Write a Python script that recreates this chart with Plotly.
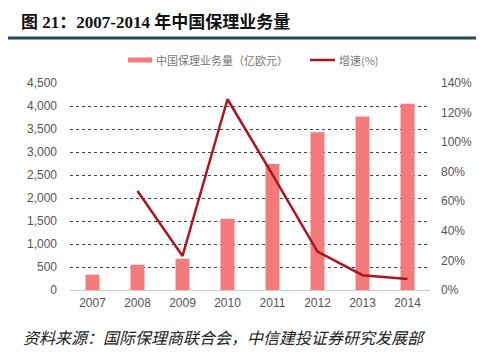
import plotly.graph_objects as go

years = ["2007", "2008", "2009", "2010", "2011", "2012", "2013", "2014"]
volume = [335, 550, 680, 1550, 2740, 3430, 3770, 4050]
growth = [None, 0.67, 0.23, 1.29, 0.78, 0.26, 0.10, 0.075]

OFF = 8  # default page body margin
PW_, PH_ = 489, 361
W, H = PW_ - OFF, PH_ - OFF
# plot area in page pixel coordinates
PL, PR, PT, PB = 70, 430, 83, 290
L = PL - OFF
T = PT - OFF
R = W - (PR - OFF)
B = H - (PB - OFF)
ph = PB - PT
pw = PR - PL

def py(y):
    return (PB - y) / ph

def px(x):
    return (x - PL) / pw

bar_color = "#F47B7B"
line_color = "#AE1420"
cjk = "Noto Sans CJK SC"
num = "Liberation Sans"

fig = go.Figure()
fig.add_trace(go.Bar(x=years, y=volume, name="中国保理业务量（亿欧元）",
                     marker=dict(color=bar_color, line=dict(width=0)),
                     yaxis="y", showlegend=False))
fig.add_trace(go.Scatter(x=years, y=growth, name="增速(%)", mode="lines",
                         line=dict(color=line_color, width=2.5),
                         yaxis="y2", showlegend=False))

fig.update_layout(
    width=W, height=H,
    margin=dict(l=L, r=R, t=T, b=B),
    paper_bgcolor="white", plot_bgcolor="white",
    bargap=0.69,
    xaxis=dict(type="category", showgrid=False, showline=False, ticks="",
               ticklabelstandoff=4,
               tickfont=dict(family=num, size=12, color="#555")),
    yaxis=dict(range=[0, 4500], dtick=500, tickformat=",d",
               showgrid=True, gridcolor="#444", griddash="dot", gridwidth=1,
               zeroline=True, zerolinecolor="#ccc", zerolinewidth=1,
               showline=False, ticks="", ticklabelstandoff=12,
               tickfont=dict(family=num, size=12, color="#555")),
    yaxis2=dict(range=[0, 1.4], dtick=0.2, tickformat=".0%", overlaying="y",
                side="right", showgrid=False, zeroline=False, showline=False,
                ticks="", ticklabelstandoff=10,
                tickfont=dict(family=num, size=12, color="#555")),
    showlegend=False,
)

shapes = [
    dict(type="line", xref="paper", yref="paper", x0=px(8), x1=px(476),
         y0=py(38), y1=py(38), line=dict(color="#1F4A5A", width=3)),
    dict(type="line", xref="paper", yref="paper", x0=px(128), x1=px(152),
         y0=py(60), y1=py(60), line=dict(color=bar_color, width=5)),
    dict(type="line", xref="paper", yref="paper", x0=px(310), x1=px(335),
         y0=py(60), y1=py(60), line=dict(color=line_color, width=2.5)),
]
fig.update_layout(shapes=shapes)

annotations = [
    dict(text="<b>图 21：2007-2014 年中国保理业务量</b>", xref="paper", yref="paper",
         x=px(19), y=py(22), xanchor="left", yanchor="middle", showarrow=False,
         font=dict(family="Liberation Serif, Noto Sans CJK SC", size=17, color="#111")),
    dict(text="中国保理业务量（亿欧元）", xref="paper", yref="paper",
         x=px(154), y=py(60), xanchor="left", yanchor="middle", showarrow=False,
         font=dict(family=cjk, size=11, color="#777")),
    dict(text="增速(%)", xref="paper", yref="paper",
         x=px(337), y=py(60), xanchor="left", yanchor="middle", showarrow=False,
         font=dict(family=cjk, size=11, color="#777")),
    dict(text="<i>资料来源：国际保理商联合会，中信建投证券研究发展部</i>", xref="paper", yref="paper",
         x=px(21), y=py(337), xanchor="left", yanchor="middle", showarrow=False,
         font=dict(family=cjk, size=16, color="#222")),
]
fig.update_layout(annotations=annotations)

fig.write_html("out.html")
